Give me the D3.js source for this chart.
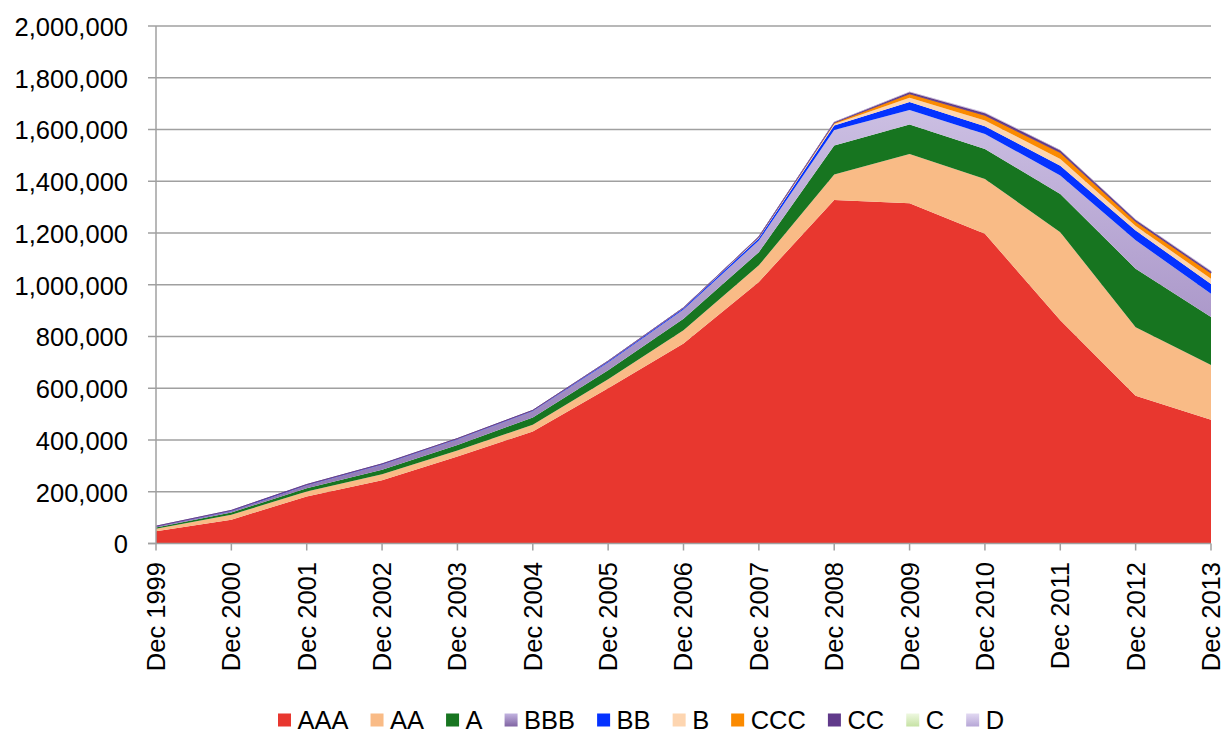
<!DOCTYPE html>
<html>
<head>
<meta charset="utf-8">
<script src="https://cdn.jsdelivr.net/npm/d3@7"></script>
<style>
  body { margin: 0; background: #fff; }
  text { font-family: "Liberation Sans", Arial, sans-serif; fill: #000; }
</style>
</head>
<body>
<svg width="1224" height="733"></svg>
<script>
// categories and series (thousands)
var years = ["Dec 1999","Dec 2000","Dec 2001","Dec 2002","Dec 2003","Dec 2004","Dec 2005",
             "Dec 2006","Dec 2007","Dec 2008","Dec 2009","Dec 2010","Dec 2011","Dec 2012","Dec 2013"];
var AAA = [47, 92, 182, 244, 336, 433, 600, 773, 1011, 1328, 1315, 1197, 863, 571, 478];
var AA  = [10, 19, 19, 24, 23, 26, 35, 51, 64, 98, 190, 212, 340, 265, 212];
var A   = [5, 9, 13, 17, 22, 28, 35, 45, 51, 112, 114, 116, 148, 226, 185];
var BBB = [3, 5, 11, 19, 21, 24, 30, 35, 45, 60, 56, 58, 71, 110, 90];
var BB  = [1, 2, 2, 2, 2, 2, 3, 5, 9, 17, 31, 30, 38, 38, 38];
var B   = [0.5, 0.5, 0.5, 1, 1, 1, 1, 1, 3, 6, 17, 22, 26, 17, 20];
var CCC = [0.3, 0.3, 0.3, 0.5, 0.5, 0.5, 1, 1, 2, 5, 15, 20, 25, 17, 22];
var CC  = [0.2, 0.2, 0.2, 0.3, 0.3, 0.3, 0.5, 0.5, 1, 2, 6, 8, 8, 6, 6];
var C   = [0, 0, 0, 0, 0, 0, 0, 0, 0.5, 0.5, 1, 1, 1, 1, 1];
var D   = [0, 0, 0, 0, 0, 0, 0.5, 0.5, 1, 1, 2, 3, 2, 2, 3];
var yTicks = [0, 200000, 400000, 600000, 800000, 1000000, 1200000, 1400000, 1600000, 1800000, 2000000];

var seriesNames = ["AAA","AA","A","BBB","BB","B","CCC","CC","C","D"];
var seriesVals = [AAA, AA, A, BBB, BB, B, CCC, CC, C, D];
var fills = ["#e8372f","#f9bb86","#177520","url(#gBBB)","#0432ff","#fdd5b0","#fb8a00","#603a8a","url(#gC)","url(#gD)"];
var legendFills = ["#e8372f","#f9bb86","#177520","url(#lBBB)","#0432ff","#fdd5b0","#fb8a00","#603a8a","url(#lC)","url(#lD)"];

var rows = years.map(function(y, i) {
  var r = { year: y };
  seriesNames.forEach(function(n, k) { r[n] = seriesVals[k][i] * 1000; });
  return r;
});

var svg = d3.select("svg");
var pLeft = 156, pRight = 1211, pTop = 26, pBottom = 543.5;

var x = d3.scalePoint().domain(years).range([pLeft, pRight]);
var y = d3.scaleLinear().domain([0, 2000000]).range([pBottom, pTop]);

var defs = svg.append("defs");
function grad(id, c1, c2, units) {
  var g = defs.append("linearGradient").attr("id", id)
    .attr("x1", 0).attr("x2", 0);
  if (units) {
    g.attr("gradientUnits", "userSpaceOnUse").attr("y1", pTop).attr("y2", pBottom);
  } else {
    g.attr("y1", 0).attr("y2", 1);
  }
  g.append("stop").attr("offset", "0%").attr("stop-color", c1);
  g.append("stop").attr("offset", "100%").attr("stop-color", c2);
}
grad("gBBB", "#d8ceec", "#8a70b0", true);
grad("gC", "#eaf5dc", "#c9e3a8", true);
grad("gD", "#ddd3f0", "#b8a8d8", true);
grad("lBBB", "#c2b3e0", "#8064a2");
grad("lC", "#eef8e0", "#c6e2a4");
grad("lD", "#e2d9f2", "#b6a6d6");

// gridlines
svg.append("g").selectAll("line")
  .data(yTicks.slice(1))
  .enter().append("line")
    .attr("x1", pLeft).attr("x2", pRight)
    .attr("y1", function(d) { return y(d); })
    .attr("y2", function(d) { return y(d); })
    .style("stroke", "#a0a0a0")
    .style("stroke-width", "1.5px");

// stacked areas
var stack = d3.stack().keys(seriesNames);
var layers = stack(rows);

var area = d3.area()
  .x(function(d) { return x(d.data.year); })
  .y0(function(d) { return y(d[0]); })
  .y1(function(d) { return y(d[1]); });

svg.append("g").selectAll("path")
  .data(layers)
  .enter().append("path")
    .attr("d", area)
    .style("fill", function(d, i) { return fills[i]; })
    .style("stroke", function(d, i) { return d.key == "CC" ? "#603a8a" : "none"; })
    .style("stroke-width", "0.8px");

// axes
var axisCol = "#a0a0a0";
svg.append("line").attr("x1", pLeft).attr("x2", pLeft).attr("y1", pTop).attr("y2", pBottom)
  .style("stroke", axisCol).style("stroke-width", "1.5px");
svg.append("line").attr("x1", pLeft - 8).attr("x2", pRight).attr("y1", pBottom).attr("y2", pBottom)
  .style("stroke", axisCol).style("stroke-width", "1.5px");

svg.append("g").selectAll("line")
  .data(yTicks)
  .enter().append("line")
    .attr("x1", pLeft - 8).attr("x2", pLeft)
    .attr("y1", function(d) { return y(d); })
    .attr("y2", function(d) { return y(d); })
    .style("stroke", axisCol).style("stroke-width", "1.5px");

svg.append("g").selectAll("line")
  .data(years)
  .enter().append("line")
    .attr("x1", function(d) { return x(d); })
    .attr("x2", function(d) { return x(d); })
    .attr("y1", pBottom).attr("y2", pBottom + 7)
    .style("stroke", axisCol).style("stroke-width", "1.5px");

var fmt = d3.format(",");
svg.append("g").selectAll("text")
  .data(yTicks)
  .enter().append("text")
    .attr("x", 128)
    .attr("y", function(d) { return y(d) + 1; })
    .attr("dy", "0.35em")
    .attr("text-anchor", "end")
    .style("font-size", "25.5px")
    .text(function(d) { return fmt(d); });

svg.append("g").selectAll("text")
  .data(years)
  .enter().append("text")
    .attr("transform", function(d) { return "translate(" + x(d) + ",562) rotate(-90)"; })
    .attr("dy", "0.35em")
    .attr("text-anchor", "end")
    .style("font-size", "25.5px")
    .text(function(d) { return d; });

// legend
var lg = svg.append("g");
var lx = 278;
seriesNames.forEach(function(n, i) {
  lg.append("rect")
    .attr("x", lx).attr("y", 713.5)
    .attr("width", 13).attr("height", 13)
    .style("fill", legendFills[i]);
  var t = lg.append("text")
    .attr("x", lx + 19.5).attr("y", 728.5)
    .style("font-size", "25.5px")
    .text(n);
  lx = lx + 19.5 + t.node().getComputedTextLength() + 22;
});
</script>
</body>
</html>
